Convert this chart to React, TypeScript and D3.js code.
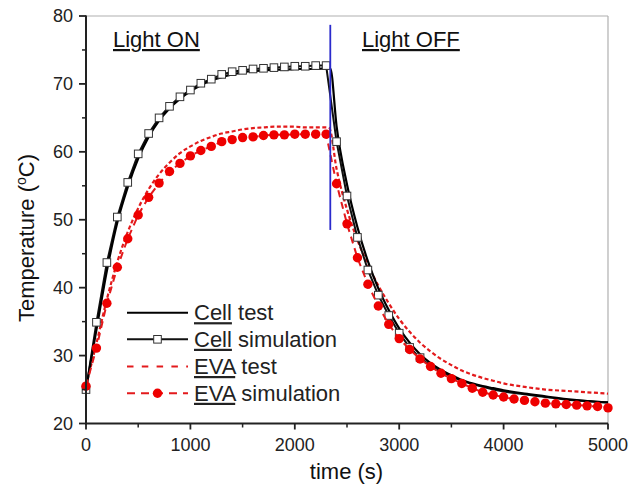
import React from "react";
import * as d3 from "d3";

const W = 641;
const H = 495;

const simTimes = d3.range(0, 5001, 100);

const cellSim = [
  25.0, 34.9, 43.7, 50.4, 55.5, 59.7, 62.7, 65.0, 66.7, 68.1, 69.1, 70.1, 70.7, 71.4, 71.8, 72.0, 72.2, 72.3, 72.4, 72.5,
  72.6, 72.6, 72.7, 72.7, 61.5, 53.5, 47.4, 42.6, 38.9, 35.9, 33.3, 31.2, 29.7, 28.5, 27.6, 26.9, 26.3, 25.8, 25.4, 25.0,
  24.7, 24.5, 24.3, 24.1, 23.9, 23.7, 23.5, 23.4, 23.3, 23.2, 23.1,
];
const cellSimMarkerEnd = 3200;

const evaSim = [
  25.5, 31.1, 37.7, 43.0, 47.2, 50.7, 53.3, 55.4, 57.1, 58.3, 59.4, 60.2, 60.8, 61.5, 61.8, 62.1, 62.2, 62.4, 62.5, 62.5,
  62.6, 62.6, 62.6, 62.6, 55.3, 49.4, 44.4, 40.5, 37.3, 34.6, 32.5, 30.9, 29.5, 28.4, 27.4, 26.6, 25.9, 25.2, 24.6, 24.2,
  23.9, 23.6, 23.4, 23.2, 23.0, 22.9, 22.8, 22.7, 22.6, 22.5, 22.3,
];

const cellTestTimes = [
  0, 50, 100, 200, 300, 400, 500, 600, 700, 800, 900, 1000, 1100, 1200, 1300, 1400, 1500, 1600, 1700, 1800, 1900, 2000,
  2100, 2200, 2300, 2340, 2400, 2500, 2600, 2700, 2800, 2900, 3000, 3100, 3200, 3300, 3400, 3500, 3600, 3700, 3800, 3900,
  4000, 4200, 4400, 4600, 4800, 5000,
];
const cellTest = [
  25, 29.5, 33.8, 42.5, 49.6, 54.8, 59.0, 62.2, 64.6, 66.4, 67.8, 68.9, 69.8, 70.5, 71.0, 71.4, 71.7, 71.9, 72.0, 72.1,
  72.1, 72.2, 72.2, 72.2, 72.3, 72.3, 63.8, 55.2, 48.9, 43.9, 39.9, 36.7, 34.0, 31.9, 30.2, 28.9, 27.9, 27.1, 26.4, 25.9,
  25.5, 25.2, 24.9, 24.4, 24.0, 23.6, 23.3, 23.1,
];

const evaTestTimes = [
  0, 100, 200, 300, 400, 500, 600, 700, 800, 900, 1000, 1100, 1200, 1300, 1400, 1500, 1600, 1700, 1800, 1900, 2000, 2100,
  2200, 2300, 2330, 2400, 2500, 2600, 2700, 2800, 2900, 3000, 3100, 3200, 3300, 3400, 3500, 3600, 3700, 3800, 3900, 4000,
  4200, 4400, 4600, 4800, 5000,
];
const evaTest = [
  25.5, 31.8, 38.3, 43.8, 48.2, 51.7, 54.5, 56.7, 58.4, 59.8, 60.8, 61.6, 62.2, 62.7, 63.0, 63.3, 63.5, 63.6, 63.7, 63.7,
  63.7, 63.6, 63.6, 63.6, 63.5, 57.5, 51.5, 47.0, 43.4, 40.3, 37.7, 35.4, 33.5, 31.9, 30.6, 29.5, 28.6, 27.8, 27.2, 26.7,
  26.3, 25.9, 25.4, 25.0, 24.8, 24.6, 24.4,
];

const xTicks = [0, 1000, 2000, 3000, 4000, 5000];
const xMinor = [500, 1500, 2500, 3500, 4500];
const yTicks = [20, 30, 40, 50, 60, 70, 80];
const yMinor = [25, 35, 45, 55, 65, 75];

const lightOffTime = 2340;
const lightLineRange = [48.5, 78.7];

const legendItems = ["Cell test", "Cell simulation", "EVA test", "EVA simulation"];

const FONT = "'Liberation Sans', Arial, sans-serif";

export default function App() {
  const x = d3.scaleLinear().domain([0, 5000]).range([86, 608]);
  const y = d3.scaleLinear().domain([20, 80]).range([423.5, 16]);

  const line = d3
    .line<[number, number]>()
    .x((d) => x(d[0]))
    .y((d) => y(d[1]));
  const smooth = d3
    .line<[number, number]>()
    .x((d) => x(d[0]))
    .y((d) => y(d[1]))
    .curve(d3.curveMonotoneX);

  const cellSimPts = simTimes.map((t, i) => [t, cellSim[i]] as [number, number]);
  const evaSimPts = simTimes.map((t, i) => [t, evaSim[i]] as [number, number]);
  const cellTestPts = cellTestTimes.map((t, i) => [t, cellTest[i]] as [number, number]);
  const evaTestPts = evaTestTimes.map((t, i) => [t, evaTest[i]] as [number, number]);

  const x0 = x(0);
  const y0 = y(20);
  const x1 = x(5000);
  const y1 = y(80);

  const legX0 = 127;
  const legX1 = 188;
  const legTextX = 194;
  const legRowY = [312.7, 339.3, 366.5, 393.3];

  const underline = (word: string, rest: string) => (
    <>
      <tspan style={{ textDecoration: "underline" }}>{word}</tspan>
      <tspan>{rest}</tspan>
    </>
  );

  return (
    <svg
      width={W}
      height={H}
      style={{ position: "absolute", left: 0, top: 0, background: "#fff" }}
      fontFamily={FONT}
    >
      <rect x={0} y={0} width={W} height={H} fill="#fff" />
      {/* frame top/right */}
      <line x1={x0} x2={x1} y1={y1} y2={y1} stroke="#b0b0b0" strokeWidth={1.2} />
      <line x1={x1} x2={x1} y1={y1} y2={y0} stroke="#b0b0b0" strokeWidth={1.2} />

      {/* data */}
      <path d={smooth(evaTestPts) || ""} fill="none" stroke="#e31a1c" strokeWidth={2.2} strokeDasharray="4,2.5" />
      <path d={line(cellSimPts) || ""} fill="none" stroke="#111" strokeWidth={2} />
      <path d={smooth(cellTestPts) || ""} fill="none" stroke="#000" strokeWidth={2.2} />
      {cellSimPts
        .filter((p) => p[0] <= cellSimMarkerEnd)
        .map((p, i) => (
          <rect
            key={"s" + i}
            x={x(p[0]) - 3.8}
            y={y(p[1]) - 3.8}
            width={7.6}
            height={7.6}
            fill="#fff"
            stroke="#333"
            strokeWidth={1}
          />
        ))}
      <path d={line(evaSimPts) || ""} fill="none" stroke="#e31a1c" strokeWidth={2} strokeDasharray="7,5" />
      {evaSimPts.map((p, i) => (
        <circle key={"c" + i} cx={x(p[0])} cy={y(p[1])} r={4.7} fill="#ee0000" />
      ))}

      {/* light off line */}
      <line
        x1={x(lightOffTime)}
        x2={x(lightOffTime)}
        y1={y(lightLineRange[1])}
        y2={y(lightLineRange[0])}
        stroke="#2a2acc"
        strokeWidth={1.8}
      />

      {/* axes */}
      <line x1={x0} x2={x0} y1={y1 - 0.5} y2={y0 + 1} stroke="#222" strokeWidth={2} />
      <line x1={x0 - 1} x2={x1} y1={y0} y2={y0} stroke="#222" strokeWidth={2} />
      {yTicks.map((t) => (
        <g key={"yt" + t}>
          <line x1={x0 - 7} x2={x0} y1={y(t)} y2={y(t)} stroke="#222" strokeWidth={1.8} />
          <text x={73} y={y(t) + 6.3} textAnchor="end" fontSize={18} fill="#222">
            {t}
          </text>
        </g>
      ))}
      {yMinor.map((t) => (
        <line key={"ym" + t} x1={x0 - 4} x2={x0} y1={y(t)} y2={y(t)} stroke="#222" strokeWidth={1.5} />
      ))}
      {xTicks.map((t) => (
        <g key={"xt" + t}>
          <line x1={x(t)} x2={x(t)} y1={y0} y2={y0 + 6} stroke="#222" strokeWidth={1.8} />
          <text x={x(t)} y={451} textAnchor="middle" fontSize={18} fill="#222">
            {t}
          </text>
        </g>
      ))}
      {xMinor.map((t) => (
        <line key={"xm" + t} x1={x(t)} x2={x(t)} y1={y0} y2={y0 + 4} stroke="#222" strokeWidth={1.5} />
      ))}

      {/* axis titles */}
      <text x={346.5} y={479} textAnchor="middle" fontSize={22} fill="#111">
        time (s)
      </text>
      <text
        transform="translate(34,238) rotate(-90)"
        textAnchor="middle"
        fontSize={22}
        fill="#111"
      >
        Temperature (<tspan fontSize={14} dy={-8}>o</tspan>
        <tspan dy={8}>C)</tspan>
      </text>

      {/* annotations */}
      <text x={113} y={47} fontSize={22} fill="#111" style={{ textDecoration: "underline" }}>
        Light ON
      </text>
      <text x={362} y={47} fontSize={22} fill="#111" style={{ textDecoration: "underline" }}>
        Light OFF
      </text>

      {/* legend */}
      <line x1={legX0} x2={legX1} y1={legRowY[0]} y2={legRowY[0]} stroke="#000" strokeWidth={2} />
      <line x1={legX0} x2={legX1} y1={legRowY[1]} y2={legRowY[1]} stroke="#111" strokeWidth={2} />
      <rect
        x={(legX0 + legX1) / 2 - 3.8}
        y={legRowY[1] - 3.8}
        width={7.6}
        height={7.6}
        fill="#fff"
        stroke="#333"
        strokeWidth={1}
      />
      <line
        x1={legX0}
        x2={legX1}
        y1={legRowY[2]}
        y2={legRowY[2]}
        stroke="#e31a1c"
        strokeWidth={2}
        strokeDasharray="6.5,8.3"
      />
      <line
        x1={legX0}
        x2={legX1}
        y1={legRowY[3]}
        y2={legRowY[3]}
        stroke="#e31a1c"
        strokeWidth={2}
        strokeDasharray="8,6"
      />
      <circle cx={(legX0 + legX1) / 2} cy={legRowY[3]} r={4.7} fill="#ee0000" />
      {legendItems.map((label, i) => {
        const sp = label.indexOf(" ");
        return (
          <text key={"lg" + i} x={legTextX} y={legRowY[i] + 7.5} fontSize={22} fill="#222">
            {underline(label.slice(0, sp), label.slice(sp))}
          </text>
        );
      })}
    </svg>
  );
}
